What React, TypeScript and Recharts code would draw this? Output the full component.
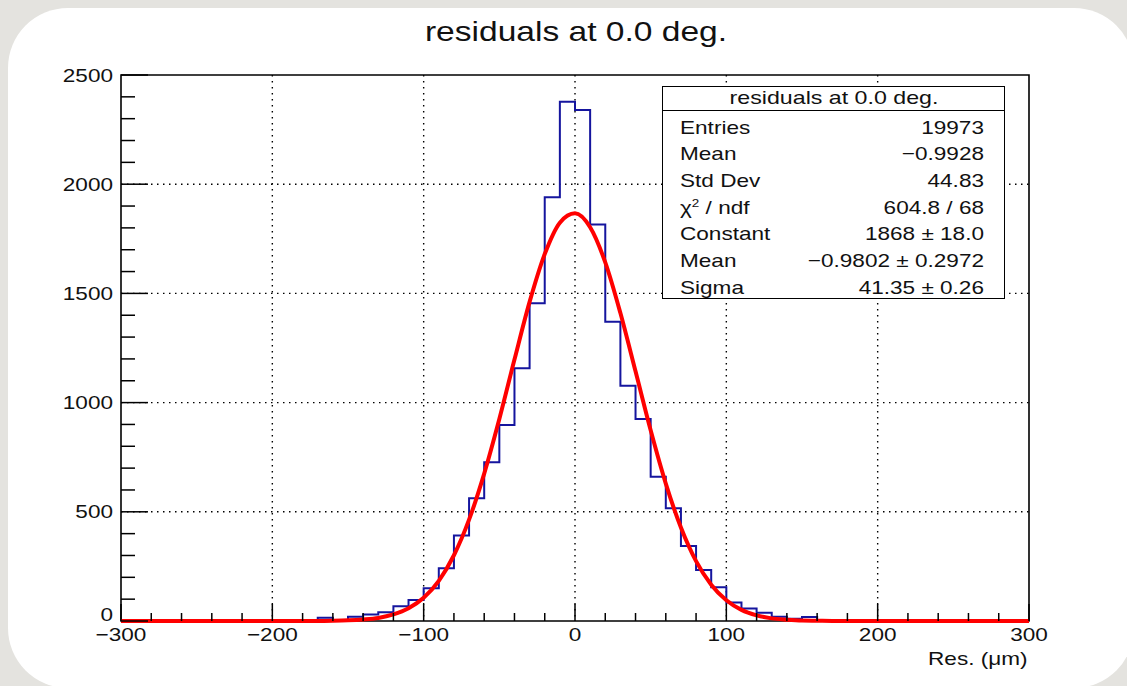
import React from 'react';
import { ComposedChart, Line, XAxis, YAxis, CartesianGrid, ReferenceArea } from 'recharts';

// histogram: 60 bins of 10 um from -300 to 300
const binStart = -300;
const binWidth = 10;
const counts = [
  0, 0, 0, 0, 0, 0, 0, 0, 0, 0,
  0, 0, 0, 15, 5, 20, 30, 40, 68, 96,
  150, 241, 391, 562, 727, 897, 1157, 1455, 1940, 2378,
  2340, 1815, 1370, 1077, 925, 661, 516, 343, 233, 154,
  85, 57, 38, 20, 10, 18, 0, 0, 0, 0,
  0, 0, 0, 0, 0, 0, 0, 0, 0, 0,
];

// gaus fit read at every bin edge (-300 ... 300)
const fitValues = [
  0, 0, 0, 0, 0, 0, 0, 0, 0, 0,
  0, 0, 0, 0, 1, 3, 7, 14, 30, 58,
  106, 184, 301, 464, 675, 925, 1197, 1461, 1680, 1824,
  1867, 1803, 1642, 1410, 1143, 873, 629, 428, 274, 166,
  95, 51, 26, 12, 6, 2, 1, 0, 0, 0,
  0, 0, 0, 0, 0, 0, 0, 0, 0, 0,
  0,
];

const xTicks = [-300, -280, -260, -240, -220, -200, -180, -160, -140, -120, -100, -80, -60, -40, -20, 0,
  20, 40, 60, 80, 100, 120, 140, 160, 180, 200, 220, 240, 260, 280, 300];
const yTicks = [0, 100, 200, 300, 400, 500, 600, 700, 800, 900, 1000, 1100, 1200, 1300, 1400, 1500,
  1600, 1700, 1800, 1900, 2000, 2100, 2200, 2300, 2400, 2500];
const xGrid = [-200, -100, 0, 100, 200];
const yGrid = [500, 1000, 1500, 2000];

const histTitle = 'residuals at 0.0 deg.';
const statsRows = [
  ['Entries', '19973'],
  ['Mean', '\u22120.9928'],
  ['Std Dev', '44.83'],
  ['chi2', '604.8 / 68'],
  ['Constant', '1868 \u00b1 18.0'],
  ['Mean', '\u22120.9802 \u00b1 0.2972'],
  ['Sigma', '41.35 \u00b1 0.26'],
];

const FONT = '"Liberation Sans", Arial, Helvetica, sans-serif';
const SX = 1.22; // text in the picture is a bit wider than plain Arial

const data = fitValues.map((f, i) => ({
  x: binStart + i * binWidth,
  hist: i < counts.length ? counts[i] : 0,
  fit: f,
}));

const fmt = (v: number) => (v < 0 ? '\u2212' + Math.abs(v) : String(v));

const XTick = (props: any) => {
  const { x, y, payload } = props;
  const v = payload.value;
  const major = v % 100 === 0;
  return (
    <g>
      <line x1={x} x2={x} y1={y} y2={y - (major ? 17 : 8)} stroke="#000" strokeWidth={1.5} />
      {major && (
        <text
          transform={`translate(${x},${y + 20}) scale(${SX},1)`}
          textAnchor="middle"
          fontFamily={FONT}
          fontSize={18.5}
          fill="#111"
        >
          {fmt(v)}
        </text>
      )}
    </g>
  );
};

const YTick = (props: any) => {
  const { x, y, payload } = props;
  const v = payload.value;
  const major = v % 500 === 0;
  // the "0" sits a little higher so it clears the -300 below it
  const ly = v === 0 ? y - 7 : y;
  return (
    <g>
      <line x1={x} x2={x + (major ? 27 : 14)} y1={y} y2={y} stroke="#000" strokeWidth={1.5} />
      {major && (
        <text
          transform={`translate(${x - 8},${ly}) scale(${SX},1)`}
          textAnchor="end"
          dy="0.36em"
          fontFamily={FONT}
          fontSize={18.5}
          fill="#111"
        >
          {v}
        </text>
      )}
    </g>
  );
};

export default function App() {
  return (
    <div
      style={{
        position: 'absolute',
        left: 0,
        top: 0,
        width: 1127,
        height: 686,
        overflow: 'hidden',
        background: '#e4e3df',
        fontFamily: FONT,
      }}
    >
      <div
        style={{
          position: 'absolute',
          left: 8,
          top: 8,
          width: 1126,
          height: 680,
          borderRadius: 60,
          background: '#fff',
        }}
      />
      <div
        style={{
          position: 'absolute',
          left: 576,
          top: 17.5,
          fontSize: 27.5,
          lineHeight: '28px',
          whiteSpace: 'nowrap',
          color: '#111',
          transform: `translateX(-50%) scaleX(${SX})`,
        }}
      >
        {histTitle}
      </div>

      <div style={{ position: 'absolute', left: 0, top: 0 }}>
        <ComposedChart
          width={1127}
          height={686}
          data={data}
          margin={{ top: 75, right: 98, bottom: 25, left: 61 }}
        >
          <CartesianGrid
            verticalValues={xGrid}
            horizontalValues={yGrid}
            stroke="#000"
            strokeWidth={1.4}
            strokeDasharray="1.5 4.5"
          />
          <XAxis
            dataKey="x"
            type="number"
            domain={[-300, 300]}
            ticks={xTicks}
            interval={0}
            height={40}
            axisLine={false}
            tickLine={false}
            tickSize={0}
            tickMargin={0}
            tick={XTick}
          />
          <YAxis
            type="number"
            domain={[0, 2500]}
            ticks={yTicks}
            interval={0}
            width={60}
            axisLine={false}
            tickLine={false}
            tickSize={0}
            tickMargin={0}
            tick={YTick}
          />
          <ReferenceArea
            x1={-300}
            x2={300}
            y1={0}
            y2={2500}
            fill="none"
            stroke="#000"
            strokeWidth={1.6}
            ifOverflow="visible"
          />
          <Line
            dataKey="hist"
            type="stepAfter"
            stroke="#15159e"
            strokeWidth={2}
            dot={false}
            activeDot={false}
            isAnimationActive={false}
          />
          <Line
            dataKey="fit"
            type="monotone"
            stroke="#ff0000"
            strokeWidth={4}
            dot={false}
            activeDot={false}
            isAnimationActive={false}
          />
        </ComposedChart>
      </div>

      {/* stats box */}
      <div
        style={{
          position: 'absolute',
          left: 662,
          top: 86,
          width: 343,
          height: 213,
          boxSizing: 'border-box',
          border: '1.5px solid #000',
          background: '#fff',
          color: '#111',
        }}
      >
        <div
          style={{
            position: 'absolute',
            left: 0,
            top: 0,
            right: 0,
            height: 23,
            borderBottom: '1.5px solid #000',
          }}
        >
          <div
            style={{
              position: 'absolute',
              left: '50%',
              top: 1,
              fontSize: 19,
              lineHeight: '20px',
              whiteSpace: 'nowrap',
              transform: `translateX(-50%) scaleX(${SX})`,
            }}
          >
            {histTitle}
          </div>
        </div>
        <div
          style={{
            position: 'absolute',
            left: 17,
            top: 27.5,
            width: (343 - 17 - 22) / SX,
            transform: `scaleX(${SX})`,
            transformOrigin: 'left top',
            fontSize: 18.5,
          }}
        >
          {statsRows.map(([label, value], i) => (
            <div
              key={i}
              style={{
                display: 'flex',
                justifyContent: 'space-between',
                height: 26.7,
                lineHeight: '26.7px',
                whiteSpace: 'nowrap',
              }}
            >
              <span>
                {label === 'chi2' ? (
                  <>
                    {'\u03c7'}
                    <span style={{ fontSize: 11, position: 'relative', top: -7 }}>2</span>
                    {' / ndf'}
                  </>
                ) : (
                  label
                )}
              </span>
              <span>{value}</span>
            </div>
          ))}
        </div>
      </div>

      <div
        style={{
          position: 'absolute',
          right: 99,
          top: 648.5,
          fontSize: 18.5,
          lineHeight: '20px',
          whiteSpace: 'nowrap',
          color: '#111',
          transform: `scaleX(${SX})`,
          transformOrigin: 'right top',
        }}
      >
        Res. ({'\u03bc'}m)
      </div>
    </div>
  );
}
